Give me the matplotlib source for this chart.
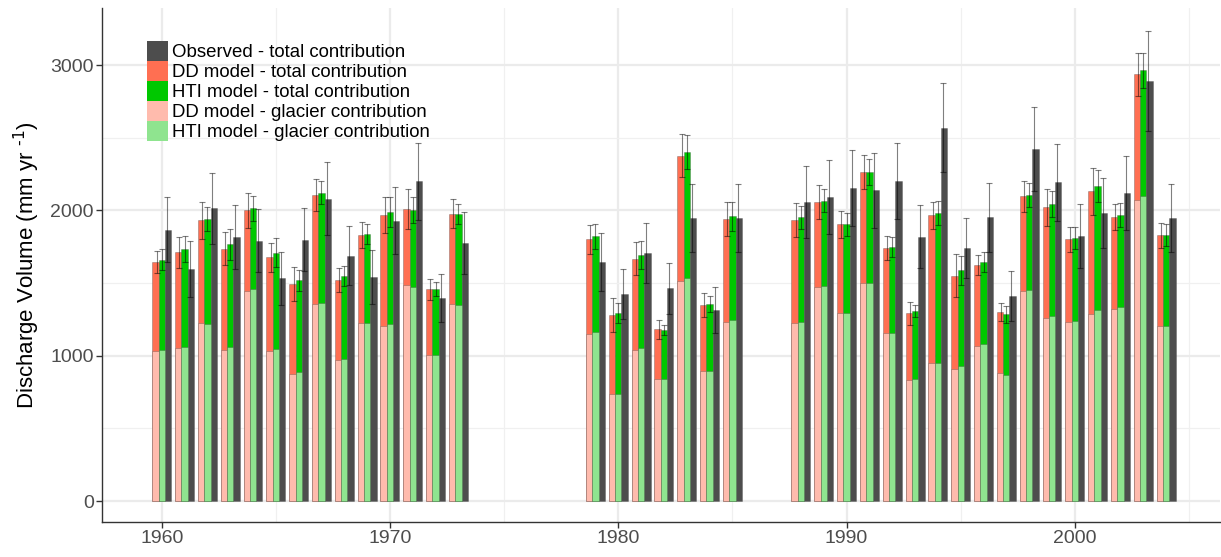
import numpy as np
import matplotlib
matplotlib.use('Agg')
import matplotlib.pyplot as plt
from matplotlib.patches import Patch
from matplotlib.ticker import MultipleLocator

plt.rcParams['font.family'] = ['Liberation Sans', 'DejaVu Sans']
plt.rcParams['mathtext.default'] = 'regular'

years = list(range(1960, 1974)) + list(range(1979, 1986)) + list(range(1988, 2005))

dd_total = [1644, 1711, 1933, 1736, 2002, 1679, 1493, 2103, 1522, 1832, 1970, 2011, 1456, 1977,
            1801, 1278, 1668, 1181, 2377, 1349, 1941,
            1936, 2058, 1904, 2264, 1741, 1292, 1966, 1551, 1624, 1301, 2097, 2021, 1801, 2131, 1952, 2936, 1828]
hti_total = [1662, 1734, 1940, 1766, 2016, 1708, 1518, 2122, 1548, 1839, 1989, 2002, 1460, 1977,
             1822, 1292, 1691, 1177, 2402, 1354, 1959,
             1952, 2067, 1904, 2264, 1746, 1308, 1982, 1588, 1643, 1285, 2106, 2046, 1810, 2168, 1968, 2964, 1828]
obs_total = [1867, 1594, 2014, 1816, 1791, 1532, 1798, 2080, 1688, 1541, 1929, 2202, 1398, 1775,
             1645, 1425, 1705, 1464, 1950, 1317, 1950,
             2058, 2090, 2154, 2138, 2202, 1819, 2569, 1741, 1952, 1411, 2423, 2195, 1824, 1984, 2120, 2891, 1948]
dd_glacier = [1029, 1052, 1222, 1038, 1442, 1029, 877, 1357, 967, 1228, 1205, 1486, 1008, 1355,
              1152, 736, 1039, 842, 1516, 897, 1234,
              1227, 1473, 1296, 1503, 1159, 830, 947, 911, 1069, 879, 1448, 1262, 1234, 1289, 1319, 2074, 1207]
hti_glacier = [1036, 1061, 1219, 1059, 1456, 1047, 891, 1366, 978, 1228, 1215, 1472, 1006, 1348,
               1165, 739, 1051, 842, 1532, 897, 1246,
               1234, 1477, 1296, 1498, 1159, 842, 950, 931, 1081, 870, 1454, 1276, 1239, 1315, 1333, 2097, 1207]
dd_err = [75, 107, 127, 112, 120, 100, 117, 110, 84, 90, 123, 138, 72, 100,
          101, 117, 116, 64, 147, 80, 114,
          118, 116, 95, 115, 85, 80, 95, 147, 70, 65, 105, 125, 85, 160, 90, 150, 85]
hti_err = [70, 90, 80, 105, 86, 100, 70, 80, 70, 70, 105, 90, 50, 70,
           85, 70, 95, 35, 115, 55, 100,
           80, 80, 80, 90, 70, 40, 80, 100, 70, 60, 80, 90, 75, 110, 80, 120, 75]
obs_err = [222, 192, 243, 219, 216, 184, 217, 250, 203, 185, 232, 265, 167, 212,
           200, 173, 208, 177, 233, 158, 235,
           248, 254, 260, 257, 264, 218, 305, 208, 235, 170, 290, 265, 220, 240, 256, 345, 235]

labels = ['Observed - total contribution', 'DD model - total contribution',
          'HTI model - total contribution', 'DD model - glacier contribution',
          'HTI model - glacier contribution']

c_obs = '#4D4D4D'
c_dd = '#FF6F52'
c_hti = '#00C800'
c_ddg = '#FFBBAD'
c_htig = '#8FE48F'

x = np.array(years, dtype=float)
bw = 0.277
eoff = 0.225

fig = plt.figure(figsize=(12.21, 5.57), dpi=100)
ax = fig.add_axes([102/1221, 35/557, 1118/1221, 514/557])

edge = (0.25, 0.25, 0.25, 0.35)
ax.bar(x - bw, dd_total, width=bw, color=c_dd, edgecolor=edge, linewidth=0.6, zorder=2)
ax.bar(x, hti_total, width=bw, color=c_hti, edgecolor=edge, linewidth=0.6, zorder=2)
ax.bar(x + bw, obs_total, width=bw, color=c_obs, edgecolor=edge, linewidth=0.6, zorder=2)
ax.bar(x - bw, dd_glacier, width=bw, color=c_ddg, edgecolor=edge, linewidth=0.6, zorder=3)
ax.bar(x, hti_glacier, width=bw, color=c_htig, edgecolor=edge, linewidth=0.6, zorder=3)

ekw = dict(fmt='none', ecolor=(0, 0, 0, 0.5), elinewidth=0.8, capsize=2.5, capthick=0.8, zorder=4)
ax.errorbar(x - eoff, dd_total, yerr=dd_err, **ekw)
ax.errorbar(x, hti_total, yerr=hti_err, **ekw)
ax.errorbar(x + eoff, obs_total, yerr=obs_err, **ekw)

ax.set_xlim(1957.385, 2006.36)
ax.set_ylim(-144.5, 3393)
ax.xaxis.set_major_locator(MultipleLocator(10))
ax.xaxis.set_minor_locator(MultipleLocator(5))
ax.yaxis.set_major_locator(MultipleLocator(1000))
ax.yaxis.set_minor_locator(MultipleLocator(500))

ax.set_axisbelow(True)
ax.grid(which='major', color='#EBEBEB', linewidth=1.6, zorder=0)
ax.grid(which='minor', color='#F0F0F0', linewidth=0.9, zorder=0)

for s in ['top', 'right']:
    ax.spines[s].set_visible(False)
for s in ['left', 'bottom']:
    ax.spines[s].set_color('#333333')
    ax.spines[s].set_linewidth(1.0)

ax.tick_params(which='major', length=4, width=1.0, color='#333333',
               labelcolor='#4D4D4D', labelsize=14, pad=2)
ax.tick_params(which='minor', length=0)

ax.set_ylabel(r'Discharge Volume (mm yr $^{\text{-1}}$)', fontsize=16, color='black', labelpad=6)

handles = [Patch(facecolor=c, edgecolor='none') for c in [c_obs, c_dd, c_hti, c_ddg, c_htig]]
leg = ax.legend(handles, labels, loc='upper left', bbox_to_anchor=(45/1118, 1 - 33/514),
                frameon=False, fontsize=13.4, handlelength=1.15, handleheight=1.25,
                labelspacing=0.0, handletextpad=0.2, borderpad=0, borderaxespad=0)

fig.savefig('out.png', dpi=100)
